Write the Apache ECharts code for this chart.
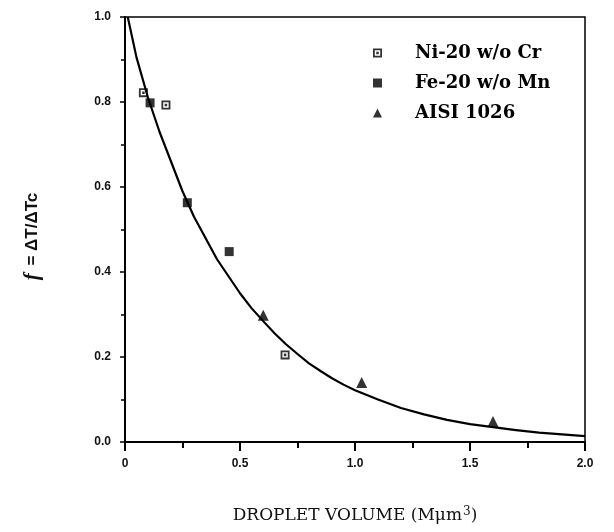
<!DOCTYPE html>
<html>
<head>
<meta charset="utf-8">
<script src="https://cdn.jsdelivr.net/npm/echarts@6/dist/echarts.min.js"></script>
<style>html,body{margin:0;padding:0;background:#fff}#c{width:614px;height:532px}</style>
</head>
<body>
<div id="c"></div>
<script>
// Data
const niName = 'Ni-20 w/o Cr';
const feName = 'Fe-20 w/o Mn';
const aisiName = 'AISI 1026';
const niData = [[0.08, 0.822], [0.178, 0.793], [0.696, 0.205]];
const feData = [[0.109, 0.798], [0.271, 0.563], [0.453, 0.448]];
const aisiData = [[0.601, 0.298], [1.029, 0.140], [1.60, 0.048]];
const curveData = [[0.012, 1.0], [0.05, 0.905], [0.1, 0.81], [0.15, 0.73], [0.2, 0.66], [0.25, 0.59],
  [0.3, 0.53], [0.35, 0.48], [0.4, 0.43], [0.45, 0.39], [0.5, 0.35], [0.55, 0.315], [0.6, 0.285],
  [0.65, 0.256], [0.7, 0.23], [0.75, 0.207], [0.8, 0.185], [0.85, 0.167], [0.9, 0.15], [0.95, 0.135],
  [1.0, 0.122], [1.1, 0.10], [1.2, 0.08], [1.3, 0.065], [1.4, 0.052],
  [1.5, 0.042], [1.6, 0.035], [1.7, 0.028], [1.8, 0.022], [1.9, 0.018], [2.0, 0.014]];
const xTicks = { min: 0, max: 2, interval: 0.5 };
const yTicks = { min: 0, max: 1, interval: 0.2 };
const xTitle = '{t|DROPLET VOLUME (Mμm}{s|3}{t|)}';
const yTitle = '{i|f}{b| = ΔT/ΔTc}';

const niSymbol = 'path://M0,0H10V10H0Z M2,2V8H8V2Z M3.6,3.6H6.4V6.4H3.6Z';

const chart = echarts.init(document.getElementById('c'));
chart.setOption({
  animation: false,
  backgroundColor: '#fff',
  grid: { left: 125, right: 29, top: 17, bottom: 90, show: true, borderColor: '#000', borderWidth: 1.5 },
  legend: {
    orient: 'vertical', left: 368, top: 37, itemWidth: 9, itemHeight: 9, itemGap: 8,
    textStyle: { fontFamily: 'DejaVu Serif', fontWeight: 'bold', fontSize: 18, color: '#000', lineHeight: 22, padding: [0, 0, 0, 28] },
    data: [
      { name: niName, icon: niSymbol },
      { name: feName, icon: 'rect' },
      { name: aisiName, icon: 'triangle' }
    ]
  },
  xAxis: {
    type: 'value', min: xTicks.min, max: xTicks.max, interval: xTicks.interval,
    axisLine: { lineStyle: { color: '#000', width: 2 } },
    axisTick: { length: 9, lineStyle: { color: '#000', width: 2 } },
    minorTick: { show: true, splitNumber: 2, length: 6, lineStyle: { color: '#000', width: 2 } },
    splitLine: { show: false },
    axisLabel: { margin: 16, fontFamily: 'Liberation Sans', fontWeight: 'bold', fontSize: 12, color: '#111',
      formatter: v => v === 0 ? '0' : v.toFixed(1) },
    name: xTitle, nameLocation: 'middle', nameGap: 64,
    nameTextStyle: { rich: {
      t: { fontFamily: 'DejaVu Serif', fontSize: 17, color: '#111' },
      s: { fontFamily: 'DejaVu Serif', fontSize: 12, color: '#111', verticalAlign: 'bottom', padding: [0, 0, 8, 1] }
    } }
  },
  yAxis: {
    type: 'value', min: yTicks.min, max: yTicks.max, interval: yTicks.interval,
    axisLine: { lineStyle: { color: '#000', width: 2 } },
    axisTick: { length: 5, lineStyle: { color: '#000', width: 1.5 } },
    minorTick: { show: true, splitNumber: 2, length: 4, lineStyle: { color: '#000', width: 1.5 } },
    splitLine: { show: false },
    axisLabel: { margin: 14, fontFamily: 'Liberation Sans', fontWeight: 'bold', fontSize: 12, color: '#111',
      formatter: v => v.toFixed(1) },
    name: yTitle, nameLocation: 'middle', nameGap: 82, nameRotate: 90,
    nameTextStyle: { padding: [0, 14, 0, 0], rich: {
      i: { fontFamily: 'Liberation Serif', fontStyle: 'italic', fontWeight: 'bold', fontSize: 21, color: '#111', padding: [0, 3, 0, 0] },
      b: { fontFamily: 'Liberation Sans', fontWeight: 'bold', fontSize: 17, color: '#111' }
    } }
  },
  series: [
    { name: 'fit', type: 'line', data: curveData, showSymbol: false, smooth: false, silent: true,
      lineStyle: { color: '#000', width: 2.2, join: 'round' }, z: 1 },
    { name: niName, type: 'scatter', data: niData, symbol: niSymbol, symbolSize: 9,
      itemStyle: { color: '#000' }, z: 3 },
    { name: feName, type: 'scatter', data: feData, symbol: 'rect', symbolSize: 9,
      itemStyle: { color: '#000' }, z: 3 },
    { name: aisiName, type: 'scatter', data: aisiData, symbol: 'triangle', symbolSize: 11,
      itemStyle: { color: '#000' }, z: 3 }
  ]
});
</script>
</body>
</html>
